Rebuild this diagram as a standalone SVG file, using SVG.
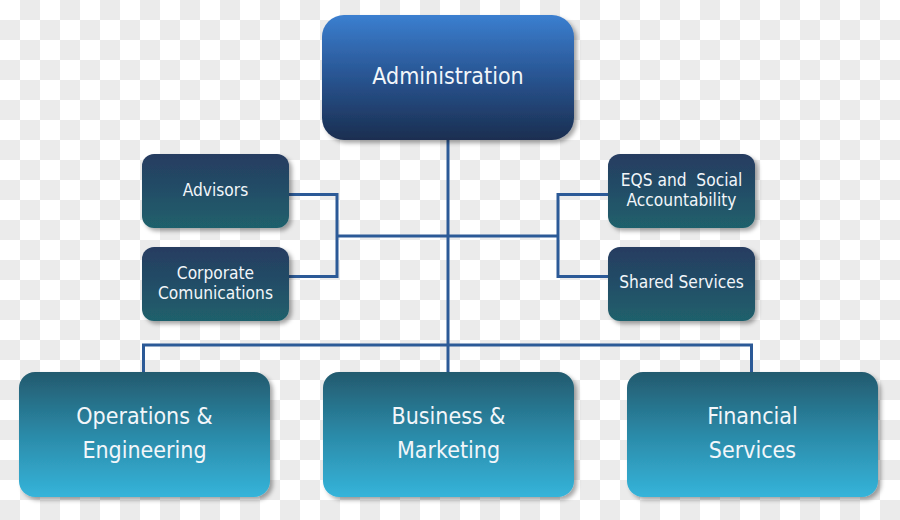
<svg xmlns="http://www.w3.org/2000/svg" width="900" height="520" viewBox="0 0 900 520">
<defs>
<pattern id="chk" width="40" height="40" patternUnits="userSpaceOnUse">
<rect width="40" height="40" fill="#ffffff"/>
<rect x="20" y="0" width="20" height="20" fill="#ebebeb"/>
<rect x="0" y="20" width="20" height="20" fill="#ebebeb"/>
</pattern>
<linearGradient id="gAdmin" x1="0" y1="0" x2="0" y2="1">
<stop offset="0" stop-color="#3b7fd0"/>
<stop offset="0.45" stop-color="#2a5897"/>
<stop offset="1" stop-color="#1a2e50"/>
</linearGradient>
<linearGradient id="gSide" x1="0" y1="0" x2="0" y2="1">
<stop offset="0" stop-color="#263c61"/>
<stop offset="1" stop-color="#1f606c"/>
</linearGradient>
<linearGradient id="gBottom" x1="0" y1="0" x2="0" y2="1">
<stop offset="0" stop-color="#235a6e"/>
<stop offset="0.5" stop-color="#2b8aa8"/>
<stop offset="1" stop-color="#35b4da"/>
</linearGradient>
<filter id="sh" x="-10%" y="-10%" width="125%" height="130%">
<feDropShadow dx="3" dy="3" stdDeviation="2" flood-color="#000" flood-opacity="0.35"/>
</filter>
</defs>
<style>
.box{filter:url(#sh);}
.t{font-family:"DejaVu Sans Condensed","DejaVu Sans",sans-serif;font-stretch:condensed;fill:#f2f6fa;text-anchor:middle;}
.conn{fill:none;stroke:#2c5a97;stroke-width:3;stroke-linejoin:miter;}
</style>
<rect width="900" height="520" fill="url(#chk)"/>
<g id="connectors" class="conn">
<path d="M448 140 V372"/>
<path d="M337 236 H558"/>
<path d="M289 194.5 H337 V276.5 H289"/>
<path d="M608 194.5 H558 V276.5 H608"/>
<path d="M143.5 372 V345 H751.5 V372"/>
</g>
<g id="administration">
<rect class="box" x="322" y="15" width="252" height="125" rx="22" fill="url(#gAdmin)"/>
<text class="t" x="448" y="84" font-size="23">Administration</text>
</g>
<g id="advisors">
<rect class="box" x="142" y="154" width="147" height="74" rx="12" fill="url(#gSide)"/>
<text class="t" x="215.5" y="196" font-size="17.2">Advisors</text>
</g>
<g id="corporate">
<rect class="box" x="142" y="247" width="147" height="74" rx="12" fill="url(#gSide)"/>
<text class="t" x="215.5" y="279" font-size="17.2">Corporate</text>
<text class="t" x="215.5" y="298.5" font-size="17.2">Comunications</text>
</g>
<g id="eqs">
<rect class="box" x="608" y="154" width="147" height="74" rx="12" fill="url(#gSide)"/>
<text class="t" x="681.5" y="186" font-size="17.2" xml:space="preserve">EQS and  Social</text>
<text class="t" x="681.5" y="205.5" font-size="17.2">Accountability</text>
</g>
<g id="shared">
<rect class="box" x="608" y="247" width="147" height="74" rx="12" fill="url(#gSide)"/>
<text class="t" x="681.5" y="288" font-size="17.2">Shared Services</text>
</g>
<g id="operations">
<rect class="box" x="19" y="372" width="251" height="125" rx="16" fill="url(#gBottom)"/>
<text class="t" x="144.5" y="424" font-size="23">Operations &amp;</text>
<text class="t" x="144.5" y="458" font-size="23">Engineering</text>
</g>
<g id="business">
<rect class="box" x="323" y="372" width="251" height="125" rx="16" fill="url(#gBottom)"/>
<text class="t" x="448.5" y="424" font-size="23">Business &amp;</text>
<text class="t" x="448.5" y="458" font-size="23">Marketing</text>
</g>
<g id="financial">
<rect class="box" x="627" y="372" width="251" height="125" rx="16" fill="url(#gBottom)"/>
<text class="t" x="752.5" y="424" font-size="23">Financial</text>
<text class="t" x="752.5" y="458" font-size="23">Services</text>
</g>
</svg>
